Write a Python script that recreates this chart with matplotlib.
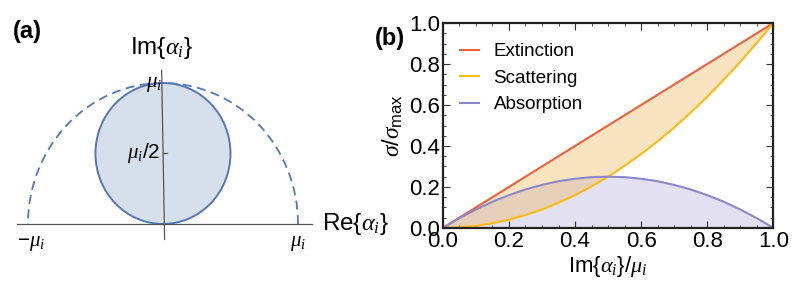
import matplotlib
matplotlib.use("Agg")
import matplotlib.pyplot as plt
from matplotlib.patches import Arc, Ellipse
from matplotlib.ticker import MultipleLocator, FormatStrFormatter

plt.rcParams['font.family'] = ['Liberation Sans', 'DejaVu Sans']
plt.rcParams['mathtext.fontset'] = 'custom'
plt.rcParams['mathtext.rm'] = 'Liberation Sans'
plt.rcParams['mathtext.it'] = 'Liberation Serif:italic'
plt.rcParams['mathtext.bf'] = 'Liberation Sans:bold'

# panel (b) data
im_ratio = [0.0, 0.05, 0.1, 0.15, 0.2, 0.25, 0.3, 0.35, 0.4, 0.45, 0.5,
            0.55, 0.6, 0.65, 0.7, 0.75, 0.8, 0.85, 0.9, 0.95, 1.0]
extinction = [0.0, 0.05, 0.1, 0.15, 0.2, 0.25, 0.3, 0.35, 0.4, 0.45, 0.5,
              0.55, 0.6, 0.65, 0.7, 0.75, 0.8, 0.85, 0.9, 0.95, 1.0]
scattering = [0.0, 0.003, 0.01, 0.023, 0.04, 0.063, 0.09, 0.123, 0.16, 0.203, 0.25,
              0.303, 0.36, 0.423, 0.49, 0.563, 0.64, 0.723, 0.81, 0.903, 1.0]
absorption = [0.0, 0.048, 0.09, 0.128, 0.16, 0.188, 0.21, 0.228, 0.24, 0.248, 0.25,
              0.248, 0.24, 0.228, 0.21, 0.188, 0.16, 0.128, 0.09, 0.048, 0.0]
legend_labels = ["Extinction", "Scattering", "Absorption"]

# panel (a) geometry
mu = 1.0

c_ext = '#EE5F3A'
c_sca = '#FDBA12'
c_abs = '#8D86C9'
c_blue = '#5478B4'

fig = plt.figure(figsize=(7.98, 2.96), dpi=100)

# ---- panel (a)
axa = fig.add_axes([0, 0, 0.5, 1])
axa.set_xlim(-1.207, 1.748)
axa.set_ylim(-0.511, 1.589)
axa.axis('off')

axa.plot([-1.08 * mu, 1.10 * mu], [0, 0], color='#555555', lw=0.9, zorder=4)
axa.plot([-0.01, 0.012], [1.09 * mu, -0.11 * mu], color='#555555', lw=0.9, zorder=4)
axa.add_patch(Ellipse((0, mu / 2), mu, mu, facecolor='#D6DFEC',
                      edgecolor=c_blue, lw=1.4, zorder=3))
axa.add_patch(Arc((0, 0), 2 * mu, 2 * mu, theta1=0, theta2=180,
                  edgecolor=c_blue, lw=1.3, linestyle=(0, (5, 3)), zorder=2))
axa.plot([0.0, 0.03], [mu / 2, mu / 2], color='#555555', lw=0.9, zorder=4)

axa.text(-0.01, 1.245, r'Im$\{\alpha_i\}$', fontsize=17.5, ha='center', va='center')
axa.text(1.175, 0, r'Re$\{\alpha_i\}$', fontsize=17.5, ha='left', va='center')
axa.text(-mu + 0.02, -0.14, r'$-\mu_i$', fontsize=15, ha='center', va='center')
axa.text(mu, -0.14, r'$\mu_i$', fontsize=15, ha='center', va='center')
axa.text(-0.01, mu * 0.99, r'$\mu_i$', fontsize=15, ha='right', va='center', zorder=5)
axa.text(-0.02, mu / 2, r'$\mu_i$/2', fontsize=15, ha='right', va='center', zorder=5)

fig.text(0.016, 0.895, '(a)', fontsize=17, fontweight='bold', ha='left', va='center')
fig.text(0.470, 0.87, '(b)', fontsize=17, fontweight='bold', ha='left', va='center')

# ---- panel (b)
axb = fig.add_axes([0.555, 0.230, 0.414, 0.692])
axb.fill_between(im_ratio, absorption, 0, color=c_abs, alpha=0.25, lw=0)
axb.fill_between(im_ratio, scattering, extinction, color='#F0B860', alpha=0.38, lw=0)
axb.plot(im_ratio, extinction, color=c_ext, lw=1.5, label=legend_labels[0])
axb.plot(im_ratio, scattering, color=c_sca, lw=1.5, label=legend_labels[1])
axb.plot(im_ratio, absorption, color=c_abs, lw=1.5, label=legend_labels[2])

axb.set_xlim(0, 1)
axb.set_ylim(0, 1)
axb.xaxis.set_major_locator(MultipleLocator(0.2))
axb.yaxis.set_major_locator(MultipleLocator(0.2))
axb.xaxis.set_minor_locator(MultipleLocator(0.05))
axb.yaxis.set_minor_locator(MultipleLocator(0.05))
axb.xaxis.set_major_formatter(FormatStrFormatter('%.1f'))
axb.yaxis.set_major_formatter(FormatStrFormatter('%.1f'))
axb.tick_params(which='both', direction='in', top=True, right=True,
                labelsize=16, color='#333333', pad=2)
axb.tick_params(which='major', length=5, width=0.8)
axb.tick_params(which='minor', length=2.5, width=0.6)
for s in axb.spines.values():
    s.set_linewidth(1.6)
    s.set_color('#222222')

axb.set_xlabel(r'Im$\{\alpha_i\}/\mu_i$', fontsize=16, labelpad=2)
axb.set_ylabel(r'$\sigma/\sigma_{\mathrm{max}}$', fontsize=17, labelpad=3)

axb.legend(loc='upper left', frameon=False, fontsize=13.5, handlelength=1.0,
           handletextpad=0.8, labelspacing=0.5, borderaxespad=0.5,
           bbox_to_anchor=(0.0, 0.985))

fig.savefig('out.png', dpi=100)
